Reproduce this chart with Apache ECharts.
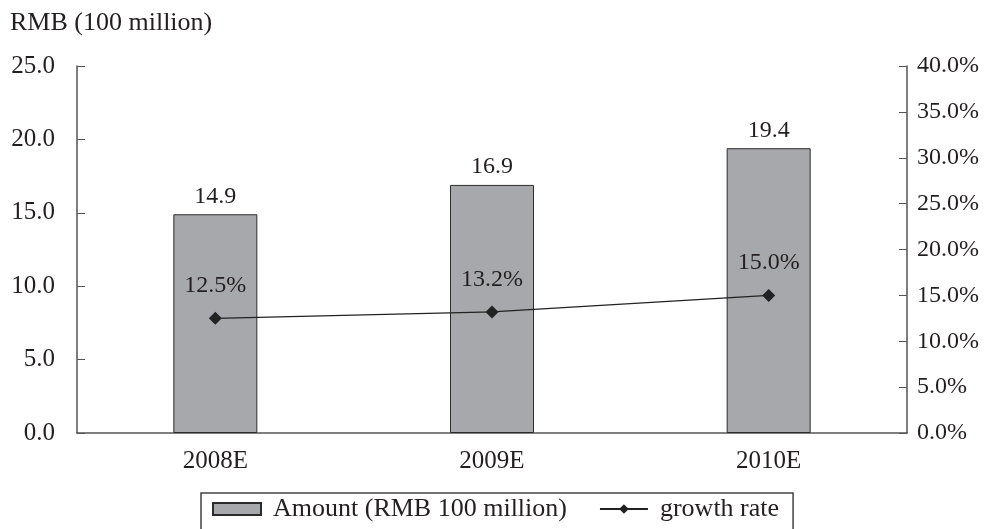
<!DOCTYPE html>
<html>
<head>
<meta charset="utf-8">
<script src="https://cdn.jsdelivr.net/npm/echarts@6/dist/echarts.min.js"></script>
<style>
  html, body { margin: 0; padding: 0; background: #fff; }
  #chart { width: 986px; height: 529px; }
</style>
</head>
<body>
<div id="chart"></div>
<script>
// Categories and series values
const years = ['2008E', '2009E', '2010E'];
const amount = [14.9, 16.9, 19.4];        // RMB 100 million
const growthRate = [12.5, 13.2, 15.0];    // percent

const FONT = '"Liberation Serif", "Times New Roman", serif';
const TEXT = '#231f20';
const AXIS = '#555555';

const chart = echarts.init(document.getElementById('chart'));

chart.setOption({
  animation: false,
  backgroundColor: '#ffffff',
  textStyle: { fontFamily: FONT, color: TEXT },
  title: {
    text: 'RMB (100 million)',
    left: 10,
    top: 10,
    padding: 0,
    textStyle: { fontFamily: FONT, fontSize: 26, fontWeight: 'normal', color: TEXT }
  },
  grid: { left: 77, right: 79, top: 66, bottom: 96 },
  legend: {
    left: 201,
    top: 493,
    padding: [3, 14, 20, 11],
    itemGap: 32,
    itemWidth: 48,
    itemHeight: 12,
    borderColor: '#444',
    borderWidth: 1.5,
    textStyle: { fontFamily: FONT, fontSize: 26, color: TEXT, padding: [0, 0, 0, 7] },
    data: [
      { name: 'Amount (RMB 100 million)', icon: 'rect' },
      { name: 'growth rate' }
    ]
  },
  xAxis: {
    type: 'category',
    data: years,
    axisLine: { lineStyle: { color: AXIS, width: 1.5 } },
    axisTick: { inside: true, length: 6, lineStyle: { color: AXIS } },
    axisLabel: { fontFamily: FONT, fontSize: 25, color: TEXT, margin: 16 }
  },
  yAxis: [
    {
      type: 'value',
      min: 0,
      max: 25,
      interval: 5,
      splitLine: { show: false },
      axisLine: { show: true, lineStyle: { color: AXIS, width: 1.5 } },
      axisTick: { show: true, inside: true, length: 8, lineStyle: { color: AXIS } },
      axisLabel: {
        fontFamily: FONT, fontSize: 25, color: TEXT, margin: 22,
        formatter: v => v.toFixed(1)
      }
    },
    {
      type: 'value',
      min: 0,
      max: 40,
      interval: 5,
      position: 'right',
      splitLine: { show: false },
      axisLine: { show: true, lineStyle: { color: AXIS, width: 1.5 } },
      axisTick: { show: true, inside: true, length: 8, lineStyle: { color: AXIS } },
      axisLabel: {
        fontFamily: FONT, fontSize: 24, color: TEXT, margin: 10,
        formatter: v => v.toFixed(1) + '%'
      }
    }
  ],
  series: [
    {
      name: 'Amount (RMB 100 million)',
      type: 'bar',
      data: amount,
      barWidth: 84,
      itemStyle: { color: '#a7a8ac', borderColor: '#2b2b2b', borderWidth: 1 },
      label: {
        show: true,
        position: 'top',
        distance: 6,
        fontFamily: FONT,
        fontSize: 24,
        color: TEXT,
        formatter: p => p.value.toFixed(1)
      }
    },
    {
      name: 'growth rate',
      type: 'line',
      yAxisIndex: 1,
      data: growthRate,
      symbol: 'diamond',
      symbolSize: 13,
      lineStyle: { color: '#222', width: 1.3 },
      itemStyle: { color: '#222' },
      label: {
        show: true,
        position: 'top',
        distance: 14,
        fontFamily: FONT,
        fontSize: 24,
        color: TEXT,
        formatter: p => p.value.toFixed(1) + '%'
      }
    }
  ]
});
</script>
</body>
</html>
